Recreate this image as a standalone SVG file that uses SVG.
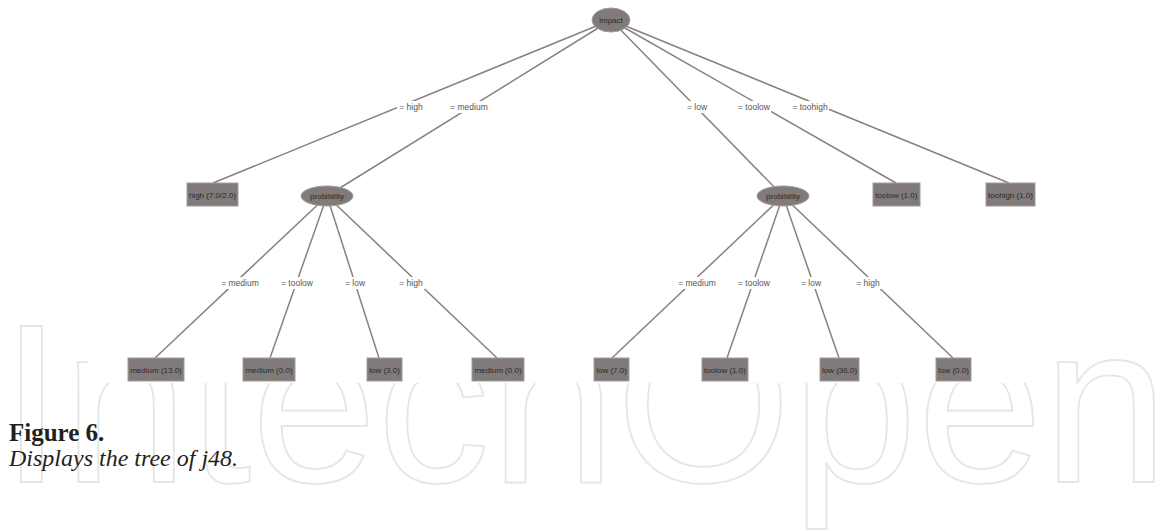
<svg xmlns="http://www.w3.org/2000/svg" width="1161" height="531" viewBox="0 0 1161 531">
<style>
.wm{font-family:"Liberation Sans",Arial,sans-serif;font-size:226px;fill:none;stroke:#e6e6e6;stroke-width:1.8}
.edge{stroke:#8a8080;stroke-width:1.5;fill:none}
.node{fill:#807a7a;stroke:#a39b9b;stroke-width:1}
.nt{font-family:"Liberation Sans",Arial,sans-serif;font-size:8px;fill:#2b2b2b;text-anchor:middle}
.lbg{fill:#ffffff}
.lt{font-family:"Liberation Sans",Arial,sans-serif;font-size:8.5px;fill:#555555;text-anchor:middle}
.cap1{font-family:"Liberation Serif","Times New Roman",serif;font-size:25px;font-weight:bold;fill:#231f20}
.cap2{font-family:"Liberation Serif","Times New Roman",serif;font-size:24px;font-style:italic;fill:#231f20}
</style>
<rect width="1161" height="531" fill="#ffffff"/>
<text class="wm" x="0" y="482">IntechOpen</text>
<rect x="88" y="0" width="965" height="383" fill="#ffffff"/>
<g id="connectors">
<line class="edge" x1="611" y1="20" x2="213" y2="183"/>
<line class="edge" x1="611" y1="20" x2="327" y2="196"/>
<line class="edge" x1="611" y1="20" x2="783" y2="196"/>
<line class="edge" x1="611" y1="20" x2="896" y2="183"/>
<line class="edge" x1="611" y1="20" x2="1009" y2="183"/>
<line class="edge" x1="327" y1="196" x2="155" y2="358"/>
<line class="edge" x1="327" y1="196" x2="270" y2="358"/>
<line class="edge" x1="327" y1="196" x2="379" y2="358"/>
<line class="edge" x1="327" y1="196" x2="497" y2="358"/>
<line class="edge" x1="783" y1="196" x2="612" y2="358"/>
<line class="edge" x1="783" y1="196" x2="727" y2="358"/>
<line class="edge" x1="783" y1="196" x2="839" y2="358"/>
<line class="edge" x1="783" y1="196" x2="953" y2="358"/>
<g id="edge-labels">
<rect class="lbg" x="397" y="101" width="28" height="12"/><text class="lt" x="411" y="110">= high</text>
<rect class="lbg" x="449" y="101" width="40" height="12"/><text class="lt" x="469" y="110">= medium</text>
<rect class="lbg" x="685" y="101" width="24" height="12"/><text class="lt" x="697" y="110">= low</text>
<rect class="lbg" x="737" y="101" width="34" height="12"/><text class="lt" x="754" y="110">= toolow</text>
<rect class="lbg" x="792" y="101" width="37" height="12"/><text class="lt" x="810" y="110">= toohigh</text>
<rect class="lbg" x="220" y="277" width="40" height="12"/><text class="lt" x="240" y="286">= medium</text>
<rect class="lbg" x="280" y="277" width="34" height="12"/><text class="lt" x="297" y="286">= toolow</text>
<rect class="lbg" x="343" y="277" width="24" height="12"/><text class="lt" x="355" y="286">= low</text>
<rect class="lbg" x="397" y="277" width="28" height="12"/><text class="lt" x="411" y="286">= high</text>
<rect class="lbg" x="677" y="277" width="40" height="12"/><text class="lt" x="697" y="286">= medium</text>
<rect class="lbg" x="737" y="277" width="34" height="12"/><text class="lt" x="754" y="286">= toolow</text>
<rect class="lbg" x="799" y="277" width="24" height="12"/><text class="lt" x="811" y="286">= low</text>
<rect class="lbg" x="854" y="277" width="28" height="12"/><text class="lt" x="868" y="286">= high</text>
</g>
</g>
<g id="n-impact"><ellipse class="node" cx="611" cy="20" rx="19" ry="12"/><text class="nt" x="611" y="23">impact</text></g>
<g id="n-high"><rect class="node" x="187" y="183" width="51" height="23"/><text class="nt" x="212.5" y="197.5">high (7.0/2.0)</text></g>
<g id="n-prob1"><ellipse class="node" cx="327" cy="196" rx="26" ry="10"/><text class="nt" x="327" y="199">probibility</text></g>
<g id="n-prob2"><ellipse class="node" cx="783" cy="196" rx="26" ry="10"/><text class="nt" x="783" y="199">probibility</text></g>
<g id="n-toolow1"><rect class="node" x="873" y="183" width="47" height="23"/><text class="nt" x="896.5" y="197.5">toolow (1.0)</text></g>
<g id="n-toohigh1"><rect class="node" x="986" y="183" width="49" height="23"/><text class="nt" x="1010.5" y="197.5">toohigh (1.0)</text></g>
<g id="n-l1"><rect class="node" x="128" y="358" width="56" height="23"/><text class="nt" x="156" y="372.5">medium (13.0)</text></g>
<g id="n-l2"><rect class="node" x="243" y="358" width="52" height="23"/><text class="nt" x="269" y="372.5">medium (0.0)</text></g>
<g id="n-l3"><rect class="node" x="367" y="358" width="35" height="23"/><text class="nt" x="384.5" y="372.5">low (3.0)</text></g>
<g id="n-l4"><rect class="node" x="472" y="358" width="52" height="23"/><text class="nt" x="498" y="372.5">medium (0.0)</text></g>
<g id="n-l5"><rect class="node" x="594" y="358" width="35" height="23"/><text class="nt" x="611.5" y="372.5">low (7.0)</text></g>
<g id="n-l6"><rect class="node" x="702" y="358" width="46" height="23"/><text class="nt" x="725" y="372.5">toolow (1.0)</text></g>
<g id="n-l7"><rect class="node" x="820" y="358" width="39" height="23"/><text class="nt" x="839.5" y="372.5">low (36.0)</text></g>
<g id="n-l8"><rect class="node" x="936" y="358" width="35" height="23"/><text class="nt" x="953.5" y="372.5">low (0.0)</text></g>
<g id="caption">
<text class="cap1" x="9" y="441">Figure 6.</text>
<text class="cap2" x="9" y="466">Displays the tree of j48.</text>
</g>
</svg>
